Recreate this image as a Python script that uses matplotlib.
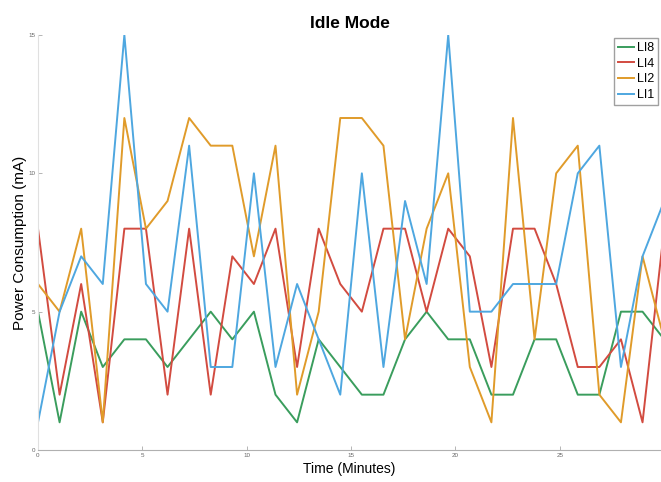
import numpy as np
import matplotlib
matplotlib.use('Agg')
import matplotlib.pyplot as plt

plt.rcParams['font.family'] = ['Liberation Sans', 'DejaVu Sans']

# sample times (minutes), 30 samples over 0..30
minutes = np.linspace(0, 30, 30)

li8 = [5, 1, 5, 3, 4, 4, 3, 4, 5, 4, 5, 2, 1, 4, 3, 2, 2, 4, 5, 4, 4, 2, 2, 4, 4, 2, 2, 5, 5, 4]
li4 = [8, 2, 6, 1, 8, 8, 2, 8, 2, 7, 6, 8, 3, 8, 6, 5, 8, 8, 5, 8, 7, 3, 8, 8, 6, 3, 3, 4, 1, 8]
li2 = [6, 5, 8, 1, 12, 8, 9, 12, 11, 11, 7, 11, 2, 5, 12, 12, 11, 4, 8, 10, 3, 1, 12, 4, 10, 11, 2, 1, 7, 4]
li1 = [1, 5, 7, 6, 15, 6, 5, 11, 3, 3, 10, 3, 6, 4, 2, 10, 3, 9, 6, 15, 5, 5, 6, 6, 6, 10, 11, 3, 7, 9]

series = [('LI8', li8, '#3a9d5d'),
          ('LI4', li4, '#d24b40'),
          ('LI2', li2, '#e09b2a'),
          ('LI1', li1, '#4ea7e0')]

fig = plt.figure(figsize=(6.61, 4.82), dpi=100)
ax = fig.add_axes([38 / 661, 1 - 450 / 482, 1 - 38 / 661, 415 / 482])

for name, vals, col in series:
    ax.plot(minutes, vals, color=col, lw=1.4, label=name)

ax.set_xlim(0, 29.85)
ax.set_ylim(0, 15)
ax.set_xticks([0, 5, 10, 15, 20, 25])
ax.set_yticks([0, 5, 10, 15])
ax.tick_params(direction='in', length=3, width=0.6, colors='#aaaaaa',
               labelsize=4.5, labelcolor='#666666', pad=2)
for s in ['top', 'right']:
    ax.spines[s].set_visible(False)
ax.spines['bottom'].set_color('#b0b0b0')
ax.spines['left'].set_color('#e0e0e0')

ax.set_title('Idle Mode', fontsize=12.5, fontweight='bold', pad=5)
ax.set_xlabel('Time (Minutes)', fontsize=10, labelpad=3)
ax.set_ylabel('Power Consumption (mA)', fontsize=11)
ax.yaxis.set_label_coords(-0.017, 0.5)

leg = ax.legend(loc='upper right', fontsize=9, handlelength=1.3, handletextpad=0.2,
                borderpad=0.3, labelspacing=0.3, fancybox=False, borderaxespad=0.25)
leg.get_frame().set_edgecolor('#888888')

fig.savefig('out.png', dpi=100)
